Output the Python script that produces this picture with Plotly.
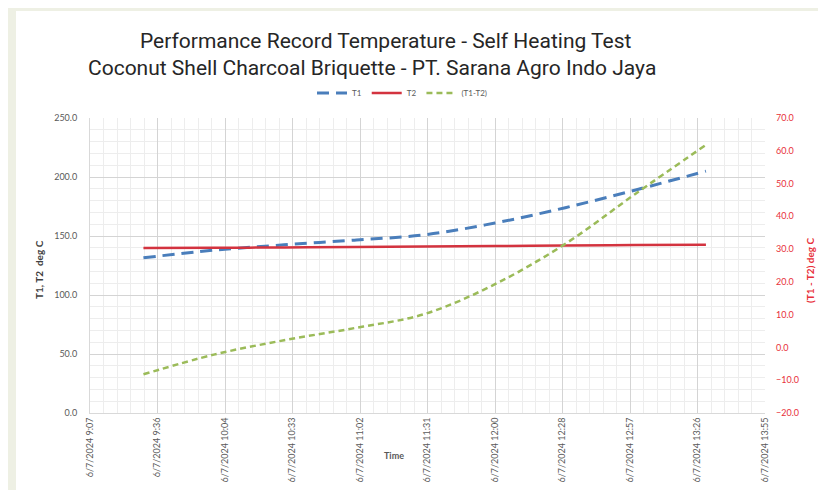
import plotly.graph_objects as go

times = ["2024-06-07 09:30", "2024-06-07 10:00", "2024-06-07 10:30", "2024-06-07 11:00",
         "2024-06-07 11:30", "2024-06-07 12:00", "2024-06-07 12:30", "2024-06-07 13:00",
         "2024-06-07 13:30"]
t1 = [131.5, 138.0, 142.5, 146.5, 151.0, 161.0, 174.0, 189.0, 205.0]
t2 = [139.8, 140.0, 140.3, 140.6, 141.0, 141.5, 142.0, 142.3, 142.6]
diff = [-8.2, -2.2, 2.2, 5.9, 10.2, 19.3, 31.6, 46.9, 61.8]

title1 = "Performance Record Temperature - Self Heating Test"
title2 = "Coconut Shell Charcoal Briquette - PT. Sarana Agro Indo Jaya"

W, H = 826, 490
L, R, T, B = 82, 757, 110, 405  # plot area px
pw, ph = R - L, B - T

def px(x):
    return (x - L) / pw

def py(y):
    return (B - y) / ph

FONT = "Lato"
TFONT = "Roboto"
fig = go.Figure()
fig.add_trace(go.Scatter(x=times, y=t1, name="T1", mode="lines", line_shape="spline",
                         line=dict(color="#4A7EBB", width=3, dash="12px,7px")))
fig.add_trace(go.Scatter(x=times, y=t2, name="T2", mode="lines", line_shape="spline",
                         line=dict(color="#D3333F", width=2.5)))
fig.add_trace(go.Scatter(x=times, y=diff, name="(T1-T2)", mode="lines", line_shape="spline",
                         yaxis="y2", line=dict(color="#9BBB59", width=2.5, dash="6px,4px")))

grid_major = "#D4D4D4"
grid_minor = "#EDEDED"
fig.update_layout(
    width=W, height=H,
    margin=dict(l=L, r=W - R, t=T, b=H - B),
    paper_bgcolor="#EEF0E4",
    plot_bgcolor="white",
    font=dict(family=FONT, color="#595959"),
    showlegend=True,
    legend=dict(orientation="h", x=px(394), y=py(85), xanchor="center", yanchor="middle",
                font=dict(size=8, color="#595959"), bgcolor="rgba(0,0,0,0)",
                itemwidth=30),
    xaxis=dict(type="date", range=["2024-06-07 09:07:12", "2024-06-07 13:55:12"],
               tick0="2024-06-07 09:07:12", dtick=1728000, tickformat="%-m/%-d/%Y %-H:%M",
               tickangle=-90, tickfont=dict(size=9, color="#595959"),
               showgrid=True, gridcolor=grid_major, gridwidth=1,
               minor=dict(dtick=345600, showgrid=True, gridcolor=grid_minor, gridwidth=1),
               showline=True, linecolor="#D9D9D9", zeroline=False, ticks=""),
    yaxis=dict(range=[0, 250], dtick=50, tickformat=".1f", tickfont=dict(size=9, color="#595959"),
               showgrid=True, gridcolor=grid_major,
               minor=dict(dtick=10, showgrid=True, gridcolor=grid_minor),
               showline=True, linecolor="#D9D9D9", zeroline=False, ticks="", ticklabelstandoff=10),
    yaxis2=dict(range=[-20, 70], dtick=10, tickformat=".1f", overlaying="y", side="right",
                tickfont=dict(size=9, color="#E8303A"), showgrid=False, zeroline=False,
                showline=False, ticks="", ticklabelstandoff=10),
    shapes=[dict(type="rect", xref="paper", yref="paper", layer="below",
                 x0=px(8), x1=px(820), y0=py(487), y1=py(3),
                 fillcolor="white", line=dict(width=0))],
    annotations=[
        dict(text=title1, x=px(378), y=py(33), xref="paper", yref="paper", showarrow=False,
             font=dict(family=TFONT, size=21, color="#262626"),
             xanchor="center", yanchor="middle"),
        dict(text=title2, x=px(364), y=py(60), xref="paper", yref="paper", showarrow=False,
             font=dict(family=TFONT, size=21, color="#262626"),
             xanchor="center", yanchor="middle"),
        dict(text="<b>T1, T2  deg C</b>", x=px(31), y=py(262), xref="paper", yref="paper",
             showarrow=False, textangle=-90, font=dict(size=10, color="#404040"),
             xanchor="center", yanchor="middle"),
        dict(text="<b>(T1 - T2) deg C</b>", x=px(802), y=py(262), xref="paper", yref="paper",
             showarrow=False, textangle=-90, font=dict(size=10, color="#E8303A"),
             xanchor="center", yanchor="middle"),
        dict(text="<b>Time</b>", x=px(386), y=py(447), xref="paper", yref="paper",
             showarrow=False, font=dict(size=9, color="#595959"),
             xanchor="center", yanchor="middle"),
    ],
)

fig.write_html("out.html")
